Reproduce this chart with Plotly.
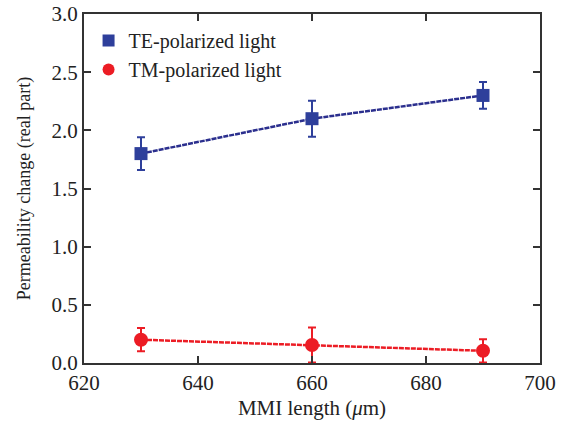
import plotly.graph_objects as go

mmi_length = [630, 660, 690]
te_values = [1.80, 2.10, 2.30]
te_errors = [0.14, 0.155, 0.115]
tm_values = [0.20, 0.155, 0.105]
tm_errors = [0.10, 0.15, 0.10]

x_ticks = [620, 640, 660, 680, 700]
y_ticks = [0.0, 0.5, 1.0, 1.5, 2.0, 2.5, 3.0]

blue = "#2E3F9B"
blue_line = "#2B2F8E"
red = "#EC1C24"
font = "Liberation Serif"
txt = "#222222"

fig = go.Figure()

for vals, errs, col, lcol in [(te_values, te_errors, blue, blue_line), (tm_values, tm_errors, red, red)]:
    fig.add_trace(go.Scatter(
        x=mmi_length, y=vals, mode="lines", showlegend=False,
        line=dict(color=lcol, width=2.5, dash="5px,1px"),
        error_y=dict(type="data", array=errs, visible=True, color=col, thickness=2, width=4),
    ))

fig.add_trace(go.Scatter(
    x=mmi_length, y=te_values, mode="markers", name="TE-polarized light",
    marker=dict(symbol="square", size=13, color=blue),
))
fig.add_trace(go.Scatter(
    x=mmi_length, y=tm_values, mode="markers", name="TM-polarized light",
    marker=dict(symbol="circle", size=14, color=red),
))

axis_common = dict(
    showgrid=False, zeroline=False, showline=True, linecolor="#333333", linewidth=2,
    mirror="ticks", ticks="inside", ticklen=7, tickwidth=2, tickcolor="#333333",
    tickfont=dict(family=font, size=21, color=txt), automargin=False,
)

fig.update_xaxes(range=[620, 700], tickvals=x_ticks, ticktext=[str(v) for v in x_ticks],
                 title=dict(text="MMI length (<i>μ</i>m)", font=dict(family=font, size=21, color=txt), standoff=6),
                 **axis_common)
fig.update_yaxes(range=[0, 3.0], tickvals=y_ticks, ticktext=[f"{v:.1f}" for v in y_ticks],
                 title=dict(text="Permeability change (real part)", font=dict(family=font, size=18, color=txt), standoff=16),
                 **axis_common)

fig.update_layout(
    width=564, height=426,
    margin=dict(l=84, r=24, t=14, b=63),
    plot_bgcolor="white", paper_bgcolor="white",
    showlegend=True,
    legend=dict(x=0.01, y=0.98, xanchor="left", yanchor="top",
                font=dict(family=font, size=20, color=txt),
                bgcolor="rgba(0,0,0,0)", itemwidth=30, tracegroupgap=0,
                itemsizing="constant"),
)

fig.write_html("out.html")
